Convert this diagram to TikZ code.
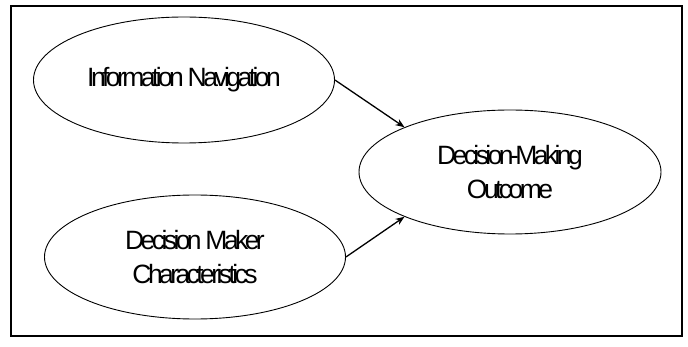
\documentclass[tikz,border=0pt]{standalone}
\usepackage{fontspec}
\setmainfont{Liberation Sans}
\newfontfamily\lblfont{Liberation Sans}[LetterSpace=-13.5]
\usetikzlibrary{shapes.geometric,arrows.meta}
\begin{document}
\begin{tikzpicture}[x=1pt,y=-1pt,
  bubble/.style={ellipse,draw=black,line width=0.9pt,inner sep=0pt,
    align=center,font=\lblfont\fontsize{26.5}{34}\selectfont},
  link/.style={draw=black,line width=1.3pt,-{Stealth[length=9pt,width=7pt]}}]
\useasboundingbox (0,0) rectangle (688,347);
\draw[line width=1.4pt] (11,6) rectangle (682,336);
\node[bubble,minimum width=301pt,minimum height=126pt] (nav) at (184,80) {Information Navigation};
\node[bubble,minimum width=301pt,minimum height=124pt] (dmc) at (195,257) {Decision Maker\\Characteristics};
\node[bubble,minimum width=302pt,minimum height=124pt] (out) at (510,172) {Decision-Making\\Outcome};
\draw[link] (nav.east) -- (out.157);
\draw[link] (dmc.east) -- (out.203);
\end{tikzpicture}
\end{document}
